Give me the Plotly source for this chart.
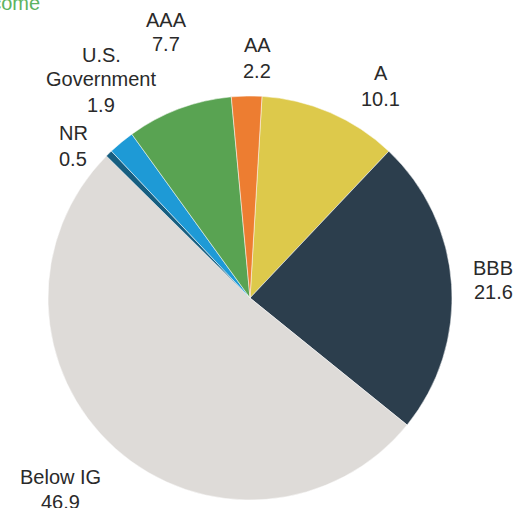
import plotly.graph_objects as go

# Data
categories = ["A", "BBB", "Below IG", "NR", "U.S. Government", "AAA", "AA"]
values = [10.1, 21.6, 46.9, 0.5, 1.9, 7.7, 2.2]
colors = ["#DDC94B", "#2C3E4D", "#DEDBD8", "#175E80", "#1E9AD6", "#59A352", "#ED7D31"]

W, H = 527, 508

# label layout (pixels): x centre, then y centre of each text line (label lines..., value)
label_layout = {
    "A": (381, [73], 99),
    "BBB": (493, [268], 291.5),
    "Below IG": (60, [477], 502),
    "NR": (73, [133], 159),
    "U.S. Government": (101, [54.5, 79.5], 105.5),
    "AAA": (166, [19.5], 44.5),
    "AA": (257, [45.5], 71),
}
label_lines = {"U.S. Government": ["U.S.", "Government"]}

cx, cy, r = 250, 298, 202

fig = go.Figure(go.Pie(
    labels=categories,
    values=values,
    sort=False,
    direction="clockwise",
    rotation=3.4,
    marker=dict(colors=colors, line=dict(color="white", width=0.5)),
    textinfo="none",
    hoverinfo="label+value",
    showlegend=False,
    domain=dict(x=[(cx - r) / W, (cx + r) / W], y=[1 - (cy + r) / H, 1 - (cy - r) / H]),
))

font = dict(family="Liberation Sans, Arial, sans-serif", size=20, color="#2a2a2a")
annotations = []


def add_text(txt, x, y, **kw):
    annotations.append(dict(
        text=txt, x=x / W, y=1 - y / H, xref="paper", yref="paper",
        showarrow=False, xanchor=kw.get("xanchor", "center"), yanchor="middle",
        align="center", font=kw.get("font", font), borderpad=0,
    ))


for lab, val in zip(categories, values):
    x, ys, yv = label_layout[lab]
    lines = label_lines.get(lab, [lab])
    for line, y in zip(lines, ys):
        add_text(line, x, y)
    add_text(f"{val}", x, yv)

add_text("Fixed Income", 41, 3, xanchor="right",
         font=dict(family="Liberation Sans, Arial, sans-serif", size=20, color="#5DB35F"))

fig.update_layout(
    width=W, height=H,
    margin=dict(l=0, r=0, t=0, b=0),
    paper_bgcolor="white", plot_bgcolor="white",
    annotations=annotations,
)

fig.write_html("out.html", config={"displayModeBar": False},
               post_script="document.body.style.margin='0';")
